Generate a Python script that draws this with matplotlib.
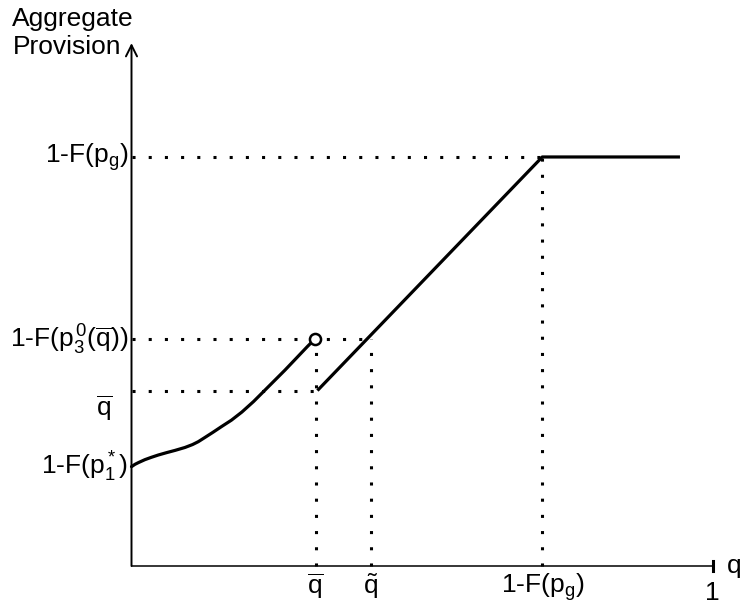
import matplotlib
matplotlib.use("Agg")
import matplotlib.pyplot as plt

plt.rcParams['font.family'] = ['Liberation Sans', 'DejaVu Sans']
plt.rcParams['mathtext.fontset'] = 'custom'
plt.rcParams['mathtext.rm'] = 'Liberation Sans'
plt.rcParams['mathtext.it'] = 'Liberation Sans'
plt.rcParams['mathtext.bf'] = 'Liberation Sans:bold'

# key positions on the q axis
q_bar = 0.317
q_tilde = 0.412
q_g = 0.707
q_end = 0.944

# key levels on the provision axis
lvl_g = 0.704
lvl_p3 = 0.390
lvl_qbar = 0.302
lvl_p1 = 0.170
y_top = 0.90

# first (curved) branch
curve_x = [0.0, 0.006, 0.012, 0.023, 0.034, 0.046, 0.060, 0.075, 0.092,
           0.105, 0.115, 0.126, 0.140, 0.155, 0.172, 0.190, 0.210,
           0.229, 0.246, 0.264, 0.284, 0.303, 0.315]
curve_y = [0.171, 0.175, 0.178, 0.183, 0.187, 0.191, 0.195, 0.199, 0.204,
           0.209, 0.214, 0.221, 0.230, 0.240, 0.251, 0.265, 0.283,
           0.302, 0.319, 0.337, 0.358, 0.378, 0.390]

# second (linear) branch and the flat part
line_x = [0.320, q_g, q_end]
line_y = [lvl_qbar, lvl_g, lvl_g]

y_labels = [r'1-F(p$_\mathregular{g}$)', r'1-F(p$_3^{\,0}$($\overline{\mathregular{q}}$))',
            r'1-F(p$^*_1$)']
x_labels = [r'$\overline{\mathregular{q}}$', r'$\tilde{\mathregular{q}}$', r'1-F(p$_\mathregular{g}$)']

fig = plt.figure(figsize=(7.45, 6.04), dpi=100)
ax = fig.add_axes([0, 0, 1, 1])
scale = 581.0
ax.set_xlim(-131.5 / scale, (745 - 131.5) / scale)
ax.set_ylim(-(604 - 566) / scale, 566 / scale)
ax.axis('off')

dot = dict(color='black', lw=2.2, dashes=(1, 4.3), dash_capstyle='butt')

# dotted guides
ax.plot([0, q_g], [lvl_g, lvl_g], **dot)
ax.plot([q_g, q_g], [0, lvl_g], **dot)
ax.plot([0, q_tilde], [lvl_p3, lvl_p3], **dot)
ax.plot([q_tilde, q_tilde], [0, lvl_p3], **dot)
ax.plot([0, q_bar], [lvl_qbar, lvl_qbar], **dot)
ax.plot([q_bar, q_bar], [0, lvl_p3], **dot)

# axes
ax.plot([0, 1.0], [0, 0], color='black', lw=1.1)
ax.plot([1.0, 1.0], [-0.009, 0.009], color='black', lw=2.2)
ax.annotate('', xy=(0, y_top), xytext=(0, 0),
            arrowprops=dict(arrowstyle='->,head_length=0.8,head_width=0.4',
                            color='black', lw=1.4, shrinkA=0, shrinkB=0))

# provision schedule
ax.plot(curve_x, curve_y, color='black', lw=2.3, solid_capstyle='round',
        solid_joinstyle='round')
ax.plot(line_x, line_y, color='black', lw=2.3, solid_capstyle='butt')
ax.plot([curve_x[-1]], [curve_y[-1]], 'o', ms=8, mfc='white', mec='black', mew=1.8)

fs = 19
for lab, yv in zip(y_labels, [lvl_g, lvl_p3, lvl_p1]):
    ax.text(-0.006, yv, lab, ha='right', va='center', fontsize=fs)
ax.text(-0.046, 0.272, r'$\overline{\mathregular{q}}$', ha='center', va='center',
        fontsize=fs)

for lab, xv in zip(x_labels, [q_bar, q_tilde, q_g]):
    ax.text(xv, -0.009, lab, ha='center', va='top', fontsize=fs)

ax.text(1.038, 0, 'q', ha='center', va='center', fontsize=fs)
ax.text(1.0, -0.026, '1', ha='center', va='top', fontsize=fs)
ax.text(-0.205, 0.962, 'Aggregate\nProvision', ha='left', va='top',
        fontsize=fs, linespacing=1.22)

fig.savefig('out.png', dpi=100)
